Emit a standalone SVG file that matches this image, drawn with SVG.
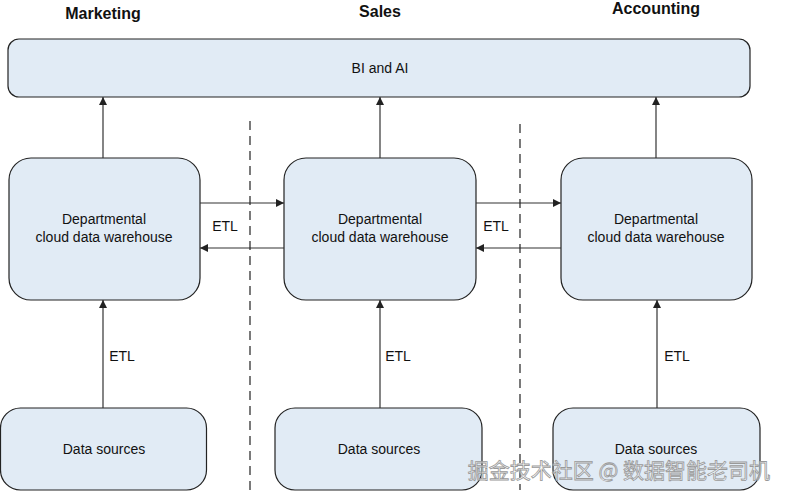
<svg xmlns="http://www.w3.org/2000/svg" width="788" height="498" viewBox="0 0 788 498">
<defs>
<marker id="ah" viewBox="0 0 10 10" refX="10" refY="5" markerWidth="10" markerHeight="8" markerUnits="userSpaceOnUse" orient="auto"><path d="M0,0 L10,5 L0,10 z" fill="#222"/></marker>
<style>
.box{fill:#e1ebf5;stroke:#222;stroke-width:1.2}
.t{font-family:"Liberation Sans",Arial,sans-serif;font-size:14px;fill:#111;text-anchor:middle}
.h{font-family:"Liberation Sans",Arial,sans-serif;font-size:16px;font-weight:bold;fill:#111;text-anchor:middle}
.c{stroke:#333;stroke-width:1.2;fill:none;marker-end:url(#ah)}
.d{stroke:#222;stroke-width:1.2;stroke-dasharray:9,6;fill:none}
</style>
</defs>
<rect width="788" height="498" fill="#fff"/>
<text class="h" x="103" y="19">Marketing</text>
<text class="h" x="380" y="17">Sales</text>
<text class="h" x="656" y="14">Accounting</text>
<g id="bi"><rect class="box" x="8" y="39" width="742" height="58" rx="11"/><text class="t" x="380" y="73">BI and AI</text></g>
<g id="wh1"><rect class="box" x="9" y="158" width="191" height="142" rx="22"/><text class="t" x="104" y="224">Departmental</text><text class="t" x="104" y="242">cloud data warehouse</text></g>
<g id="wh2"><rect class="box" x="284" y="158" width="192" height="142" rx="22"/><text class="t" x="380" y="224">Departmental</text><text class="t" x="380" y="242">cloud data warehouse</text></g>
<g id="wh3"><rect class="box" x="561" y="158" width="191" height="142" rx="22"/><text class="t" x="656" y="224">Departmental</text><text class="t" x="656" y="242">cloud data warehouse</text></g>
<g id="ds1"><rect class="box" x="0.5" y="408" width="206" height="82" rx="20"/><text class="t" x="104" y="454">Data sources</text></g>
<g id="ds2"><rect class="box" x="275" y="408" width="207" height="82" rx="20"/><text class="t" x="379" y="454">Data sources</text></g>
<g id="ds3"><rect class="box" x="553" y="408" width="207" height="82" rx="20"/><text class="t" x="656" y="454">Data sources</text></g>
<g id="connectors">
<path class="c" d="M103,158 V97"/>
<path class="c" d="M380,158 V97"/>
<path class="c" d="M656,158 V97"/>
<path class="c" d="M103,408 V300"/>
<path class="c" d="M380,408 V300"/>
<path class="c" d="M657,408 V300"/>
<path class="c" d="M200,203 H284"/>
<path class="c" d="M284,248 H200"/>
<path class="c" d="M476,203 H561"/>
<path class="c" d="M561,248 H476"/>
<text class="t" x="122" y="361">ETL</text>
<text class="t" x="398" y="361">ETL</text>
<text class="t" x="677" y="361">ETL</text>
<text class="t" x="225" y="231">ETL</text>
<text class="t" x="496" y="231">ETL</text>
<path class="d" d="M250,121 V490"/>
<path class="d" d="M520,124 V490"/>
</g>
<text x="770" y="478" font-family="'Noto Sans CJK SC',sans-serif" font-size="21" fill="#fff" fill-opacity="0.6" stroke="#999" stroke-width="0.8" text-anchor="end">掘金技术社区 @ 数据智能老司机</text>
</svg>
